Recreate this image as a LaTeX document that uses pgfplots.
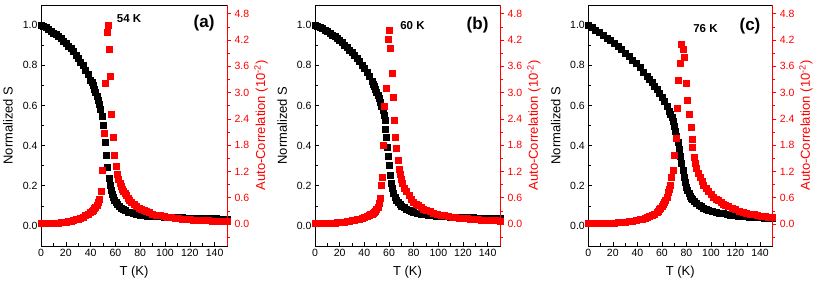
\documentclass[border=0pt]{standalone}
\usepackage{fontspec}
\setmainfont{Liberation Sans}
\usepackage{pgfplots}
\pgfplotsset{compat=1.18}
\pgfplotsset{
  /pgf/number format/assume math mode=true,
  lax/.style={
    scale only axis, height=241pt, anchor=south west,
    xmin=0, xmax=150, ymin=-0.1, ymax=1.1,
    tick pos=left, tick align=inside,
    axis line style={line width=0.8pt},
    major tick length=4pt, minor tick length=2.5pt,
    every tick/.style={line width=0.6pt, black},
    xtick={0,20,40,60,80,100,120,140}, minor xtick={10,30,50,70,90,110,130,150},
    ytick={0,0.2,0.4,0.6,0.8,1.0}, minor ytick={0.1,0.3,0.5,0.7,0.9},
    yticklabel style={/pgf/number format/.cd, fixed, fixed zerofill, precision=1},
    tick label style={font=\fontsize{10.5}{12}\selectfont},
    xlabel={T (K)}, ylabel={Normalized S},
    label style={font=\fontsize{13}{15}\selectfont},
    xlabel style={at={(axis description cs:0.5,-0.108)}, anchor=center},
    ylabel style={at={(axis description cs:-0.177,0.5)}, anchor=center},
  },
  rax/.style={
    scale only axis, height=241pt, anchor=south west,
    xmin=0, xmax=150, ymin=-0.5, ymax=5.0,
    axis x line=none, axis y line*=right,
    axis line style={line width=0.8pt, red},
    tick align=outside,
    major tick length=4pt, minor tick length=2.5pt,
    every tick/.style={line width=0.6pt, red},
    ytick={0,0.6,1.2,1.8,2.4,3.0,3.6,4.2,4.8},
    minor ytick={-0.3,0.3,0.9,1.5,2.1,2.7,3.3,3.9,4.5},
    yticklabel style={red, font=\fontsize{10.5}{12}\selectfont, /pgf/number format/.cd, fixed, fixed zerofill, precision=1},
    ylabel={Auto-Correlation (10\textsuperscript{-2})},
    ylabel style={red, font=\fontsize{13}{15}\selectfont, at={(axis description cs:1.183,0.5)}, anchor=center},
  },
  bk/.style={only marks, mark=square*, mark size=3pt, black},
  rd/.style={only marks, mark=square*, mark size=3pt, red},
}
\begin{document}
\begin{tikzpicture}
\path[use as bounding box] (0,0) rectangle (817pt,283pt);
% ---------------- (a)
\begin{axis}[lax, width=186pt, at={(41pt,37pt)}]
\addplot[bk] coordinates {(0,1.000)(2,0.994)(4,0.987)(6,0.979)(8,0.971)(10,0.962)(12,0.953)(14,0.943)(16,0.933)(18,0.922)(20,0.910)(22,0.897)(24,0.883)(26,0.868)(28,0.852)(30,0.835)(32,0.817)(34,0.798)(36,0.777)(38,0.754)(40,0.728)(41,0.714)(42,0.699)(43,0.683)(44,0.666)(45,0.648)(46,0.628)(47,0.606)(48,0.580)(49,0.547)(50.2,0.500)(51.5,0.416)(52.5,0.350)(53.6,0.290)(54.6,0.240)(55.5,0.205)(56.4,0.180)(57.3,0.160)(58.3,0.143)(59.3,0.129)(60.3,0.118)(61.5,0.108)(63,0.098)(64.5,0.090)(66,0.083)(68,0.076)(70,0.070)(72,0.066)(74,0.062)(77,0.058)(80,0.055)(83,0.052)(86,0.050)(90,0.048)(93,0.047)(96,0.046)(99,0.045)(102,0.044)(105,0.043)(108,0.0425)(111,0.042)(114,0.041)(117,0.040)(120,0.040)(123,0.039)(126,0.039)(129,0.038)(132,0.038)(135,0.037)(138,0.037)(141,0.036)(144,0.035)(147,0.035)(150,0.034)};
\node[font=\bfseries\fontsize{11.5}{13}\selectfont] at (axis cs:71,1.03) {54 K};
\node[font=\bfseries\fontsize{17}{19}\selectfont] at (axis cs:131.5,1.01) {(a)};
\end{axis}
\begin{axis}[rax, width=186pt, at={(41pt,37pt)}]
\addplot[rd] coordinates {(0,0.010)(2,0.011)(4,0.012)(6,0.014)(8,0.017)(10,0.020)(12,0.024)(14,0.029)(16,0.035)(18,0.042)(20,0.050)(22,0.060)(24,0.072)(26,0.086)(28,0.102)(30,0.120)(32,0.140)(34,0.165)(36,0.195)(38,0.230)(40,0.270)(41,0.293)(42,0.320)(43,0.352)(44,0.390)(45,0.435)(46,0.490)(47,0.560)(48.4,0.75)(49.7,1.22)(51.1,2.07)(51.9,3.21)(53.0,4.38)(53.8,4.53)(54.8,4.00)(55.6,3.37)(57.0,2.50)(58.3,1.98)(59.1,1.58)(60.5,1.33)(61.5,1.14)(62.5,1.02)(63.5,0.93)(64.5,0.86)(65.5,0.80)(66.5,0.75)(67.5,0.70)(68.5,0.66)(70,0.60)(71.5,0.55)(73,0.50)(75,0.45)(77,0.41)(79,0.37)(81,0.335)(83,0.31)(85,0.285)(87,0.262)(90,0.235)(93,0.212)(96,0.192)(99,0.176)(102,0.162)(105,0.150)(108,0.139)(111,0.129)(114,0.120)(117,0.112)(120,0.105)(123,0.099)(126,0.093)(129,0.088)(132,0.083)(135,0.079)(138,0.075)(141,0.071)(144,0.067)(147,0.064)(150,0.060)};
\end{axis}
% ---------------- (b)
\begin{axis}[lax, width=185pt, at={(315pt,37pt)}]
\addplot[bk] coordinates {(0,1.000)(2,0.995)(4,0.989)(6,0.982)(8,0.975)(10,0.968)(12,0.960)(14,0.952)(16,0.943)(18,0.934)(20,0.924)(22,0.913)(24,0.902)(26,0.890)(28,0.877)(30,0.864)(32,0.850)(34,0.835)(36,0.819)(38,0.802)(40,0.784)(42,0.764)(44,0.743)(46,0.720)(47,0.708)(48,0.695)(49,0.681)(50,0.667)(51,0.652)(52,0.636)(53,0.618)(54,0.598)(55,0.575)(56,0.550)(56.6,0.525)(57.3,0.483)(58.1,0.441)(58.6,0.390)(59.5,0.349)(60.3,0.300)(60.9,0.253)(61.8,0.215)(62.7,0.186)(63.7,0.163)(64.8,0.145)(66,0.130)(67.3,0.118)(68.7,0.108)(70,0.100)(72,0.091)(74,0.084)(76,0.078)(78,0.073)(80,0.069)(83,0.064)(86,0.060)(89,0.057)(92,0.054)(95,0.052)(98,0.050)(101,0.049)(104,0.047)(107,0.046)(110,0.045)(113,0.044)(116,0.043)(119,0.043)(122,0.042)(125,0.041)(128,0.041)(131,0.040)(134,0.040)(137,0.039)(140,0.039)(143,0.038)(146,0.038)(150,0.037)};
\node[font=\bfseries\fontsize{11.5}{13}\selectfont] at (axis cs:79,1.0) {60 K};
\node[font=\bfseries\fontsize{17}{19}\selectfont] at (axis cs:131.8,1.0) {(b)};
\end{axis}
\begin{axis}[rax, width=185pt, at={(315pt,37pt)}]
\addplot[rd] coordinates {(0,0.010)(2,0.011)(4,0.012)(6,0.013)(8,0.015)(10,0.017)(12,0.020)(14,0.023)(16,0.027)(18,0.032)(20,0.037)(22,0.043)(24,0.050)(26,0.058)(28,0.067)(30,0.078)(32,0.090)(34,0.104)(36,0.120)(38,0.138)(40,0.158)(42,0.180)(44,0.205)(45,0.220)(46,0.237)(47,0.256)(48,0.278)(49,0.303)(50,0.340)(51,0.390)(52,0.470)(52.7,0.60)(53.5,0.89)(54.6,1.08)(55.5,1.80)(56.5,2.69)(57.6,3.11)(59.0,4.23)(60.2,4.42)(61.1,4.01)(62.2,3.45)(63.2,2.89)(64.3,2.38)(65.1,1.98)(66.2,1.73)(67.1,1.45)(67.9,1.26)(68.8,1.13)(69.8,1.03)(71,0.93)(72.5,0.83)(74,0.74)(76,0.65)(78,0.57)(80,0.51)(82,0.46)(84,0.42)(86,0.38)(88,0.35)(90,0.32)(93,0.285)(96,0.255)(99,0.23)(102,0.21)(105,0.193)(108,0.178)(111,0.165)(114,0.153)(117,0.143)(120,0.134)(123,0.126)(126,0.118)(129,0.111)(132,0.105)(135,0.099)(138,0.094)(141,0.089)(144,0.084)(147,0.080)(150,0.076)};
\end{axis}
% ---------------- (c)
\begin{axis}[lax, width=184pt, at={(588.3pt,37pt)}]
\addplot[bk] coordinates {(0,1.000)(3,0.988)(6,0.976)(9,0.963)(12,0.950)(15,0.937)(18,0.923)(21,0.909)(24,0.894)(27,0.878)(30,0.862)(33,0.845)(36,0.827)(39,0.808)(42,0.788)(45,0.767)(48,0.745)(50,0.730)(52,0.714)(54,0.697)(56,0.679)(58,0.660)(60,0.641)(62,0.620)(64,0.597)(66,0.571)(67,0.556)(68,0.540)(69,0.520)(70,0.497)(71,0.472)(72,0.445)(73,0.415)(74,0.382)(75,0.348)(76,0.312)(77,0.277)(78,0.245)(79,0.217)(80,0.194)(81,0.176)(82,0.161)(83,0.149)(84,0.139)(85,0.131)(86,0.124)(88,0.113)(90,0.104)(92,0.096)(94,0.090)(96,0.084)(98,0.079)(101,0.073)(104,0.068)(107,0.064)(110,0.061)(113,0.058)(116,0.055)(119,0.052)(122,0.050)(125,0.048)(128,0.047)(131,0.045)(134,0.044)(137,0.043)(140,0.041)(143,0.040)(146,0.039)(150,0.038)};
\node[font=\bfseries\fontsize{11.5}{13}\selectfont] at (axis cs:95.5,0.983) {76 K};
\node[font=\bfseries\fontsize{17}{19}\selectfont] at (axis cs:131.8,0.993) {(c)};
\end{axis}
\begin{axis}[rax, width=184pt, at={(588.3pt,37pt)}]
\addplot[rd] coordinates {(0,0.010)(3,0.011)(6,0.013)(9,0.015)(12,0.018)(15,0.021)(18,0.025)(21,0.030)(24,0.036)(27,0.043)(30,0.052)(33,0.062)(36,0.074)(39,0.088)(42,0.105)(44,0.118)(46,0.133)(48,0.155)(50,0.180)(52,0.205)(54,0.235)(56,0.275)(57,0.300)(58,0.330)(59,0.365)(60,0.405)(61,0.450)(62,0.500)(63,0.555)(64,0.620)(65,0.720)(65.6,0.80)(66.5,0.89)(67.6,1.08)(68.8,1.24)(70.2,1.58)(71.5,1.96)(72.6,2.65)(73.6,3.28)(74.7,3.67)(76.1,4.11)(77.2,3.98)(78.2,3.82)(80.2,3.22)(81.0,2.83)(81.9,2.51)(83.5,2.22)(84.3,1.94)(85.1,1.75)(86.1,1.52)(87.2,1.38)(88.3,1.27)(89.5,1.17)(91,1.06)(92.5,0.97)(94,0.89)(96,0.81)(98,0.74)(100,0.68)(102,0.62)(104,0.575)(106,0.535)(108,0.495)(110,0.46)(112,0.43)(114,0.40)(117,0.36)(120,0.33)(123,0.30)(126,0.275)(129,0.255)(132,0.235)(135,0.218)(138,0.203)(141,0.19)(144,0.178)(147,0.167)(150,0.157)};
\end{axis}
\end{tikzpicture}
\end{document}
